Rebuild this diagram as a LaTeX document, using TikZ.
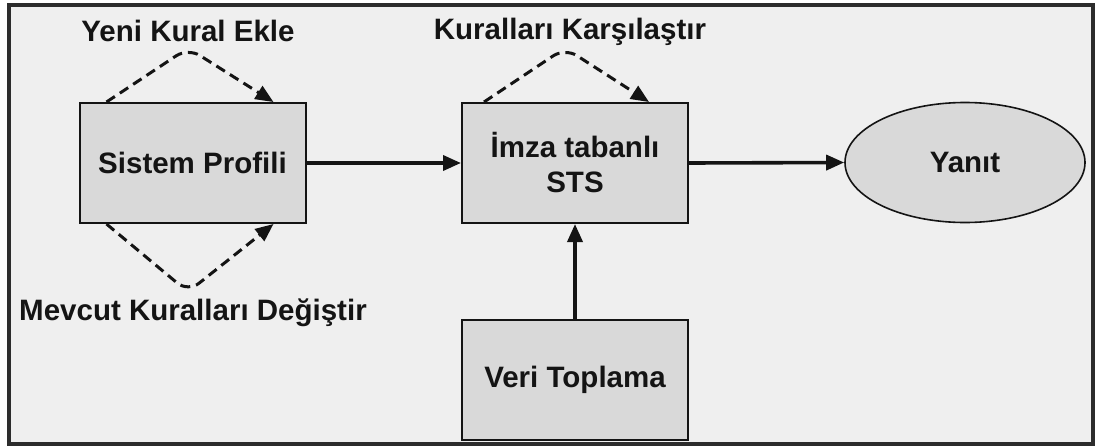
\documentclass[tikz,border=0pt]{standalone}
\usepackage{fontspec}
\setmainfont{Liberation Sans}
\usetikzlibrary{arrows.meta,shapes.geometric,calc}
\definecolor{panel}{HTML}{EFEFEF}
\definecolor{boxfill}{HTML}{D9D9D9}
\definecolor{ink}{HTML}{141414}
\begin{document}
\begin{tikzpicture}[x=1pt,y=-1pt,
  every node/.style={font=\fontsize{29.5}{35}\selectfont\bfseries, text=ink},
  procbox/.style={draw=ink, line width=2pt, fill=boxfill, inner sep=0pt,
    minimum width=226pt, minimum height=120pt, align=center},
  endnode/.style={ellipse, draw=ink, line width=1.6pt, fill=boxfill, inner sep=0pt,
    minimum width=240pt, minimum height=120pt},
  flow/.style={draw=ink, line width=3.6pt, -{Triangle[length=18pt,width=15pt]}},
  loop/.style={draw=ink, line width=3pt, dash pattern=on 10pt off 6pt,
    rounded corners=14pt, -{Triangle[length=18pt,width=15pt]}},
  label/.style={inner sep=0pt}]
  \useasboundingbox (0,0) rectangle (1097,447);
  \fill[white] (0,0) rectangle (1097,447);
  % outer panel
  \draw[draw=ink!90, fill=panel, line width=3.2pt] (9,5) rectangle (1093,444);

  % main blocks
  \node[procbox] (sp)   at (192.5,163) {Sistem Profili};
  \node[procbox] (sts)  at (575,163)   {İmza tabanlı\\STS};
  \node[procbox] (veri) at (575,379.5) {Veri Toplama};
  \node[endnode] (yan)  at (965,162.5) {Yanıt};

  % flows
  \draw[flow] (sp.east) -- (sts.west);
  \draw[flow] (sts.east) -- (yan.west);
  \draw[flow] (veri.north) -- (sts.south);

  % rule-handling loops
  \coordinate (yeniTop) at (188,48);
  \coordinate (mevBot)  at (188,292);
  \coordinate (karTop)  at (565,48);
  \draw[loop] ($(sp.north west)+(28,0)$) -- (yeniTop) -- ($(sp.north west)+(195,0)$);
  \draw[loop] ($(sp.south west)+(28,0)$) -- (mevBot) -- ($(sp.south west)+(195,0)$);
  \draw[loop] ($(sts.north west)+(23,0)$) -- (karTop) -- ($(sts.north west)+(188,0)$);

  \node[label] (lyeni) at (188,31)  {Yeni Kural Ekle};
  \node[label] (lmev)  at (193,313) {Mevcut Kuralları Değiştir};
  \node[label] (lkar)  at (570,32)  {Kuralları Karşılaştır};
\end{tikzpicture}
\end{document}
